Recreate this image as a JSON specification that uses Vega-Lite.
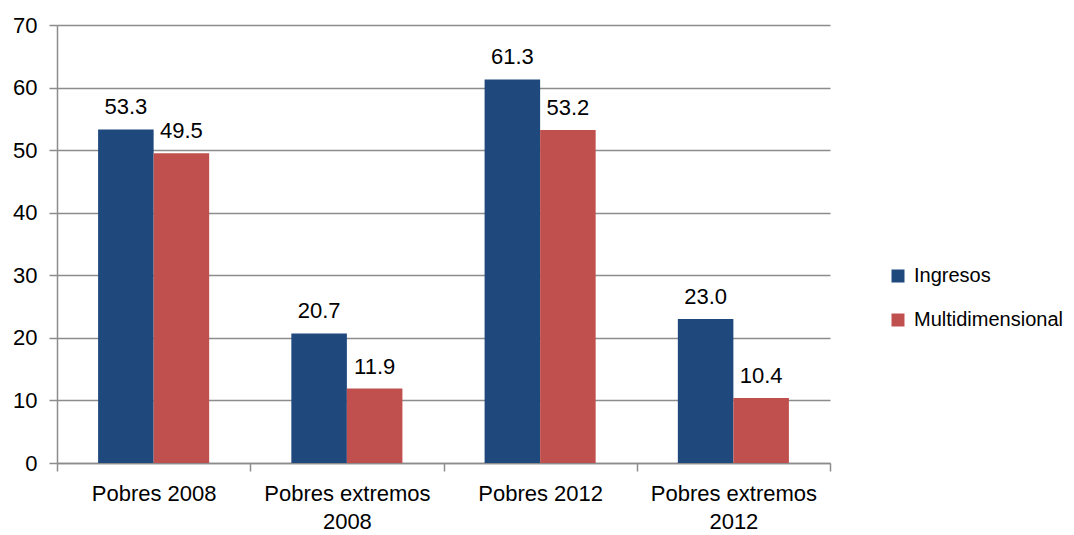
{
  "$schema": "https://vega.github.io/schema/vega-lite/v6.json",
  "width": 773,
  "height": 438,
  "autosize": {"type": "none"},
  "padding": {"left": 57, "top": 25, "right": 244, "bottom": 72},
  "background": "white",
  "config": {
    "font": "Liberation Sans",
    "view": {"stroke": null},
    "axis": {"labelFont": "Liberation Sans", "labelColor": "#000000"}
  },
  "data": {
    "values": [
      {"categoria": "Pobres 2008", "medida": "Ingresos", "valor": 53.3},
      {"categoria": "Pobres 2008", "medida": "Multidimensional", "valor": 49.5},
      {"categoria": "Pobres extremos\n2008", "medida": "Ingresos", "valor": 20.7},
      {"categoria": "Pobres extremos\n2008", "medida": "Multidimensional", "valor": 11.9},
      {"categoria": "Pobres 2012", "medida": "Ingresos", "valor": 61.3},
      {"categoria": "Pobres 2012", "medida": "Multidimensional", "valor": 53.2},
      {"categoria": "Pobres extremos\n2012", "medida": "Ingresos", "valor": 23.0},
      {"categoria": "Pobres extremos\n2012", "medida": "Multidimensional", "valor": 10.4}
    ]
  },
  "encoding": {
    "x": {
      "field": "categoria",
      "type": "nominal",
      "sort": null,
      "scale": {"paddingInner": 0, "paddingOuter": 0},
      "axis": {
        "title": null,
        "labelAngle": 0,
        "labelFontSize": 22,
        "labelPadding": 12,
        "labelLineHeight": 28,
        "labelExpr": "split(datum.label, '\\n')",
        "tickBand": "extent",
        "tickSize": 8,
        "tickColor": "#8c8c8c",
        "tickWidth": 1.5,
        "domainColor": "#8c8c8c",
        "domainWidth": 1.5,
        "grid": false
      }
    },
    "xOffset": {
      "field": "medida",
      "type": "nominal",
      "sort": ["Ingresos", "Multidimensional"],
      "scale": {"paddingInner": 0, "paddingOuter": 0.74}
    },
    "y": {
      "field": "valor",
      "type": "quantitative",
      "scale": {"domain": [0, 70], "nice": false},
      "axis": {
        "title": null,
        "values": [0, 10, 20, 30, 40, 50, 60, 70],
        "labelFontSize": 22,
        "labelPadding": 12,
        "tickSize": 8,
        "tickColor": "#8c8c8c",
        "tickWidth": 1.5,
        "grid": true,
        "gridColor": "#8c8c8c",
        "gridWidth": 1.5,
        "domainColor": "#8c8c8c",
        "domainWidth": 1.5
      }
    }
  },
  "layer": [
    {
      "mark": {"type": "bar"},
      "encoding": {
        "color": {
          "field": "medida",
          "type": "nominal",
          "scale": {"domain": ["Ingresos", "Multidimensional"], "range": ["#1f497d", "#c0504d"]},
          "legend": {
            "title": null,
            "orient": "none",
            "legendX": 831,
            "legendY": 241,
            "symbolType": "square",
            "symbolSize": 169,
            "symbolStrokeWidth": 0,
            "labelFontSize": 20,
            "labelFont": "Liberation Sans",
            "labelColor": "#000000",
            "labelLimit": 300,
            "labelOffset": 6,
            "rowPadding": 24
          }
        }
      }
    },
    {
      "mark": {"type": "text", "baseline": "alphabetic", "dy": -15, "fontSize": 22, "color": "#000000"},
      "encoding": {
        "text": {"field": "valor", "type": "quantitative", "format": ".1f"}
      }
    }
  ]
}
